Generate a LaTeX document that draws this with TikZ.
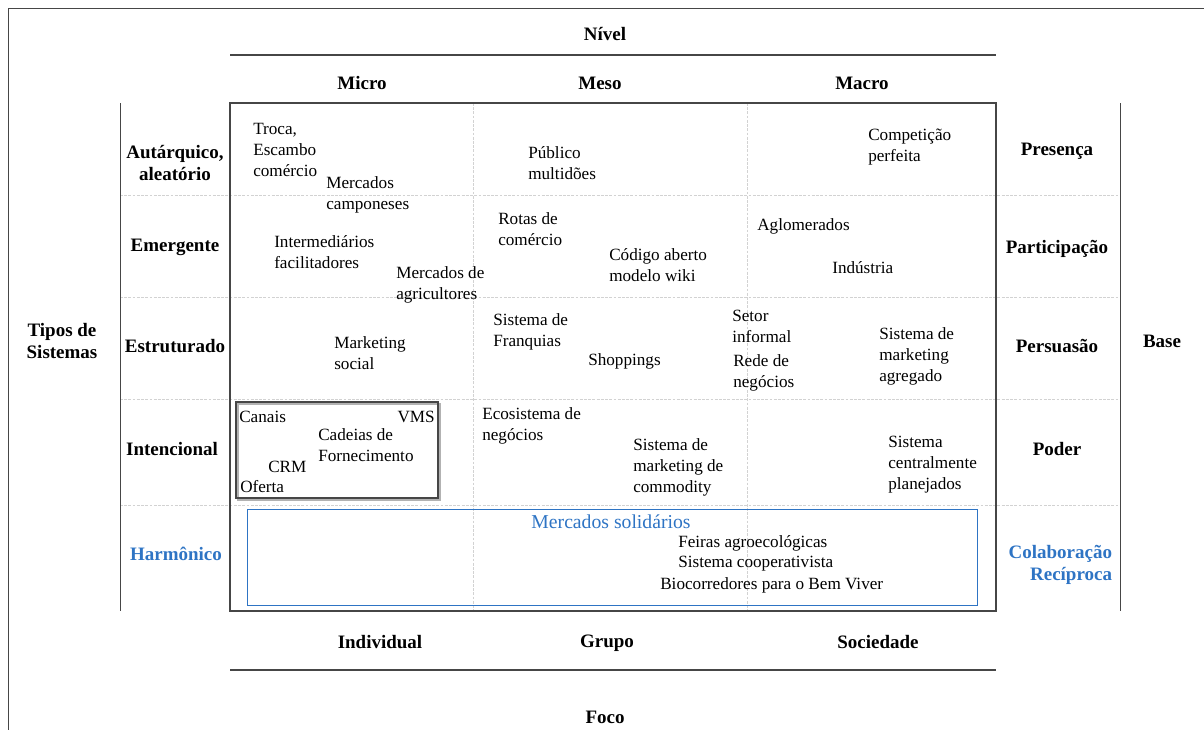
\documentclass[tikz,border=0pt]{standalone}
\usepackage{fontspec}
\setmainfont{Liberation Serif}
\usepackage{xcolor}
\usepackage{tikz}
\definecolor{solblue}{RGB}{46,116,196}
\definecolor{frame}{RGB}{70,70,70}

\begin{document}
\begin{tikzpicture}[x=0.025cm, y=-0.025cm,
	head/.style={font=\fontsize{13.5}{16}\selectfont\bfseries, align=center},
	item/.style={font=\fontsize{12.2}{14.9}\selectfont, align=left, anchor=west, inner sep=0pt}]
	\useasboundingbox (0,0) rectangle (1204,730);
	% outer frame
	\draw[frame, thin] (8,730) -- (8,8) -- (1204,8);
	% dashed grid
	\foreach \y in {195, 297, 399, 505} {
		\draw[gray!35, dash pattern=on 2pt off 1pt, very thin] (120,\y) -- (1120,\y);
	}
	\foreach \x in {473, 747} {
		\draw[gray!35, dash pattern=on 2pt off 1pt, very thin] (\x,103) -- (\x,611);
	}
	\draw[frame, line width=0.9pt] (230,103) rectangle (996,611);
	\draw[frame, thin] (120,103) -- (120,611);
	\draw[frame, thin] (1120,103) -- (1120,611);
	% header and footer
	\node[head] (nivel) at (605,34) {Nível};
	\draw[frame, line width=0.9pt] (230,55) -- (996,55);
	\node[head] (micro) at (362,83) {Micro};
	\node[head] (meso) at (600,83) {Meso};
	\node[head] (macro) at (862,83) {Macro};
	\node[head] (indiv) at (380,642) {Individual};
	\node[head] (grupo) at (607,643) {Grupo};
	\node[head] (soc) at (878,642) {Sociedade};
	\draw[frame, line width=0.9pt] (230,670) -- (996,670);
	\node[head] (foco) at (605,717) {Foco};
	% rows
	\node[head] (tipos) at (62,341) {Tipos de\\Sistemas};
	\node[head] (autarq) at (175,163) {Autárquico,\\aleatório};
	\node[head] (emerg) at (175,247) {Emergente};
	\node[head] (estrut) at (175,346) {Estruturado};
	\node[head] (intenc) at (172,449) {Intencional};
	\node[head, solblue] (harmon) at (176,554) {Harmônico};
	\node[head] (presenca) at (1057,151) {Presença};
	\node[head] (partic) at (1057,249) {Participação};
	\node[head] (persua) at (1057,346) {Persuasão};
	\node[head] (poder) at (1057,449) {Poder};
	\node[head, solblue, align=right, anchor=east] (colab) at (1117,565) {Colaboração\\Recíproca};
	\node[head] (base) at (1162,341) {Base};
	% Autarquico
	\node[item] (troca) at (253,150) {Troca,\\Escambo\\comércio};
	\node[item] (campon) at (326,195) {Mercados\\camponeses};
	\node[item] (publico) at (528,163) {Público\\multidões};
	\node[item] (compet) at (868,147) {Competição\\perfeita};
	% Emergente
	\node[item] (rotas) at (498,229) {Rotas de\\comércio};
	\node[item] (interm) at (274,252) {Intermediários\\facilitadores};
	\node[item] (agric) at (396,285) {Mercados de\\agricultores};
	\node[item] (codigo) at (609,265) {Código aberto\\modelo wiki};
	\node[item] (aglom) at (757,226) {Aglomerados};
	\node[item] (indust) at (832,268) {Indústria};
	% Estruturado
	\node[item] (mktsoc) at (334,353) {Marketing\\social};
	\node[item] (franq) at (493,332) {Sistema de\\Franquias};
	\node[item] (shop) at (588,361) {Shoppings};
	\node[item] (setor) at (732,326) {Setor\\informal};
	\node[item] (rede) at (733,373) {Rede de\\negócios};
	\node[item] (agreg) at (879,356) {Sistema de\\marketing\\agregado};
	% Intencional
	\draw[black!30, line width=1.2pt] (238,404) rectangle (440,500);
	\draw[frame, line width=0.9pt] (236,402) rectangle (438,498);
	\node[item] (canais) at (239,417) {Canais};
	\node[item, anchor=east] (vms) at (435,417) {VMS};
	\node[item] (cadeias) at (318,445) {Cadeias de\\Fornecimento};
	\node[item] (crm) at (268,467) {CRM};
	\node[item] (oferta) at (240,487) {Oferta};
	\node[item] (ecosis) at (482,426) {Ecosistema de\\negócios};
	\node[item] (commod) at (633,467) {Sistema de\\marketing de\\commodity};
	\node[item] (planej) at (888,465) {Sistema\\centralmente\\planejados};
	% Harmonico
	\draw[solblue, line width=0.7pt] (247,509) rectangle (977,605);
	\node[item, anchor=center, solblue, font=\fontsize{14}{16}\selectfont] (solid) at (611,522) {Mercados solidários};
	\node[item] (feiras) at (678,543) {Feiras agroecológicas};
	\node[item] (coop) at (678,564) {Sistema cooperativista};
	\node[item] (biocor) at (660,585) {Biocorredores para o Bem Viver};
\end{tikzpicture}
\end{document}
